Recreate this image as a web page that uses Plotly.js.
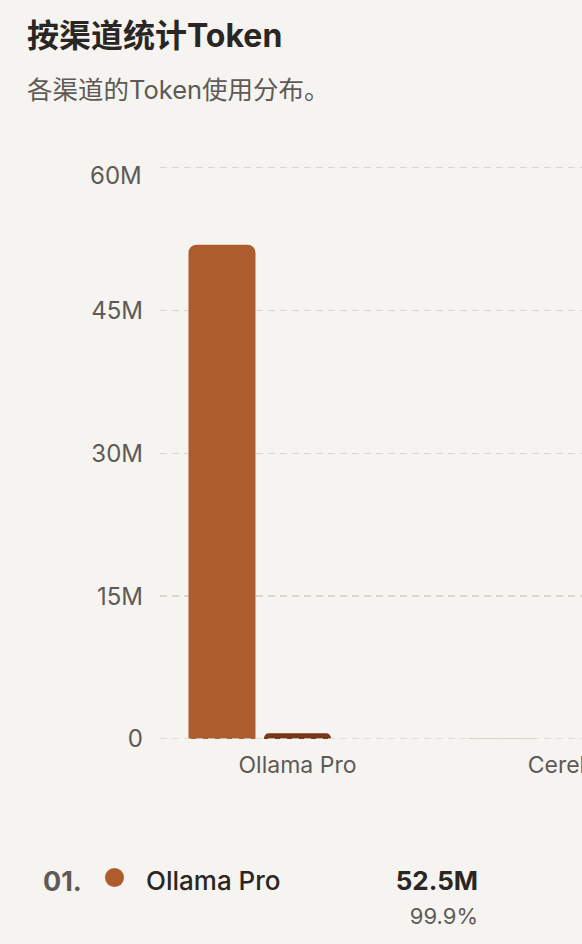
<!DOCTYPE html>
<html>
<head>
<meta charset="utf-8">
<script src="https://cdn.plot.ly/plotly-3.0.1.min.js"></script>
<style>
html,body{margin:0;padding:0;background:#f5f4f1;width:582px;height:944px;overflow:hidden;font-family:Inter,"Noto Sans CJK SC",sans-serif;}
#chart{position:absolute;left:0;top:0;width:582px;height:800px;}
.t{position:absolute;white-space:nowrap;line-height:1;}
</style>
</head>
<body>
<div id="chart"></div>
<div id="title" class="t" style="left:27px;top:20px;font-size:32px;font-weight:700;color:#2a2623;"></div>
<div id="subtitle" class="t" style="left:27px;top:77px;font-size:25.5px;font-weight:400;color:#5f5a55;"></div>
<div id="legend"></div>
<script>
// ---- data ----
const titleText = "按渠道统计Token";
const subtitleText = "各渠道的Token使用分布。";
const channels = ["Ollama Pro", "Cerebras"];
const inputTokens = [51900000, 30000];
const outputTokens = [600000, 5000];
const cacheTokens = [0, 0];
const seriesNames = ["输入", "输出", "缓存"];
const seriesColors = ["#ad5c2d", "#7a361b", "#d9a077"];
const channelColors = ["#ad5c2d", "#7a361b"];
const yTickVals = [0, 15000000, 30000000, 45000000, 60000000];
const yTickText = ["0", "15M", "30M", "45M", "60M"];

document.getElementById('title').textContent = titleText;
document.getElementById('subtitle').textContent = subtitleText;

const seriesValues = [inputTokens, outputTokens, cacheTokens];
const traces = seriesValues.map((vals, i) => ({
  type: 'bar',
  name: seriesNames[i],
  x: channels,
  y: vals,
  marker: {color: seriesColors[i], line: {width: 0}},
  hoverinfo: 'none'
}));

const FONT = 'Inter, "Noto Sans CJK SC", sans-serif';
const GRID = '#d9d5cf';
const TICKCOL = '#5f5a55';
const lastIdx = yTickVals.length - 1;
// top tick label is drawn slightly below its gridline, as in the reference
const shownTickText = yTickText.map((t, i) => i === lastIdx ? '' : t);

const layout = {
  width: 582, height: 800,
  paper_bgcolor: '#f5f4f1', plot_bgcolor: '#f5f4f1',
  margin: {l: 160, r: 0, t: 158, b: 61, pad: 0},
  barmode: 'group', bargap: 0.191, bargroupgap: 0.113, barcornerradius: 8,
  showlegend: false,
  font: {family: FONT, color: TICKCOL},
  xaxis: {
    type: 'category', range: [-0.491, 1.016],
    showgrid: false, zeroline: false, showline: false, ticks: '',
    tickfont: {size: 23, color: TICKCOL, family: FONT},
    ticklabelstandoff: 10,
    automargin: false, fixedrange: true
  },
  yaxis: {
    range: [0, 61000000],
    tickvals: yTickVals, ticktext: shownTickText,
    showgrid: true, gridcolor: GRID, gridwidth: 1.5, griddash: '7px,5px',
    zeroline: false, showline: false, ticks: '',
    tickfont: {size: 24, color: TICKCOL, family: FONT},
    ticklabelstandoff: 16,
    automargin: false, fixedrange: true
  },
  annotations: [{
    xref: 'paper', yref: 'y', x: 0, y: yTickVals[lastIdx],
    text: yTickText[lastIdx], showarrow: false,
    xanchor: 'right', yanchor: 'middle', xshift: -16, yshift: -8,
    font: {size: 24, color: TICKCOL, family: FONT}
  }],
  shapes: [{
    type: 'line', xref: 'paper', yref: 'y', x0: 0, x1: 1, y0: 0, y1: 0,
    line: {color: GRID, width: 1.5, dash: '7px,5px'}, layer: 'above'
  }]
};

Plotly.newPlot('chart', traces, layout, {staticPlot: true, displayModeBar: false});

// ---- legend list (rows that fit on the page) ----
const totals = channels.map((c, i) => inputTokens[i] + outputTokens[i] + cacheTokens[i]);
const grand = totals.reduce((a, b) => a + b, 0);
const legend = document.getElementById('legend');
channels.forEach((c, i) => {
  const top = 868 + i * 92;
  if (top + 60 > 944) return;
  const idx = String(i + 1).padStart(2, '0') + '.';
  legend.insertAdjacentHTML('beforeend',
    `<div class="t" style="left:43px;top:${top}px;font-size:27px;font-weight:700;color:#5f5a55;">${idx}</div>` +
    `<div style="position:absolute;left:105px;top:${top}px;width:19px;height:19px;border-radius:50%;background:${channelColors[i]};"></div>` +
    `<div class="t" style="left:146px;top:${top}px;font-size:26px;font-weight:500;color:#2a2623;">${c}</div>` +
    `<div class="t" style="right:104px;top:${top}px;font-size:26px;font-weight:700;color:#2a2623;">${(totals[i] / 1e6).toFixed(1)}M</div>` +
    `<div class="t" style="right:104px;top:${top + 37}px;font-size:22px;font-weight:400;color:#5f5a55;">${(totals[i] / grand * 100).toFixed(1)}%</div>`
  );
});
</script>
</body>
</html>
